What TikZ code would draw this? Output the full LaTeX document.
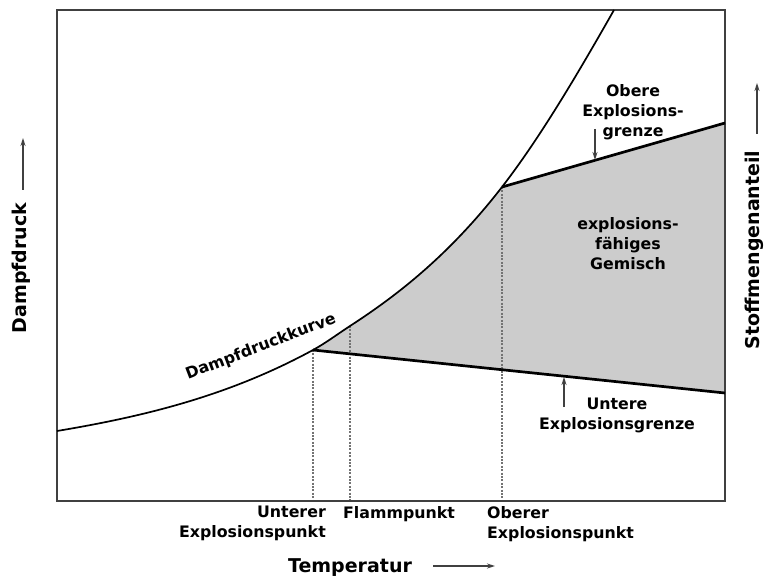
\documentclass[tikz,border=0pt]{standalone}
\usepackage{fontspec}
\setmainfont{DejaVu Sans}
\usetikzlibrary{arrows.meta}

\tikzset{
  txt/.style={font=\fontsize{15.8}{20}\selectfont\bfseries, inner sep=0pt, align=center},
  bigtxt/.style={font=\fontsize{19}{22}\selectfont\bfseries, inner sep=0pt},
  frame/.style={line width=1.5pt, black!75},
  vpcurve/.style={line width=1.7pt},
  limitline/.style={line width=2.7pt},
  dropline/.style={line width=2.6pt, black!55, dash pattern=on 2pt off 1.4pt},
  pointer/.style={-{Stealth[length=8pt, width=5pt]}, line width=1.2pt, black!75},
}

\begin{document}
\begin{tikzpicture}[x=1pt, y=-1pt]
    \useasboundingbox (0, 0) rectangle (766, 577);

    % points on the curve and the limit lines
    \coordinate (start) at (57, 431);
    \coordinate (uep) at (313, 350);
    \coordinate (flp) at (350, 326);
    \coordinate (oep) at (502, 187);
    \coordinate (top) at (614, 10);
    \coordinate (uegEnd) at (725, 393);
    \coordinate (oegEnd) at (725, 123);
    \coordinate (bottom) at (0, 501);

    % explosive region
    \fill[gray!40] (uep) .. controls (325.3, 343.3) and (337.7, 334) .. (flp)
      .. controls (400.7, 293.2) and (451.3, 252.4) .. (oep)
      -- (oegEnd) -- (uegEnd) -- cycle;

    \foreach \p in {uep, flp, oep} {
      \draw[dropline] (\p) -- (\p |- bottom);
    }

    \draw[frame] (57, 10) rectangle (725, 501);

    \draw[vpcurve] (start) .. controls (142.3, 416.7) and (227.7, 396.5) .. (uep)
      .. controls (325.3, 343.3) and (337.7, 334) .. (flp)
      .. controls (400.7, 293.2) and (451.3, 252.4) .. (oep)
      .. controls (539.3, 138.8) and (576.7, 75.7) .. (top);

    \draw[limitline] (uep) -- (uegEnd);
    \draw[limitline] (oep) -- (oegEnd);

    % labels inside the diagram
    \node[txt, rotate=21] (curvelbl) at (261, 347) {Dampfdruckkurve};
    \node[txt, anchor=north] (oeglbl) at (633, 84) {Obere\\Explosions-\\grenze};
    \node[txt, anchor=north] (mixlbl) at (628, 217) {explosions-\\fähiges\\Gemisch};
    \node[txt, anchor=north] (ueglbl) at (617, 398) {Untere\\Explosionsgrenze};

    \coordinate (oegFrom) at (595, 129);
    \coordinate (oegTip) at (595, 160);
    \coordinate (uegFrom) at (564, 407);
    \coordinate (uegTip) at (564, 377);
    \draw[pointer] (oegFrom) -- (oegTip);
    \draw[pointer] (uegFrom) -- (uegTip);

    % labels below the axis
    \node[txt, anchor=north east, align=right] (ueplbl) at (326, 506) {Unterer\\Explosionspunkt};
    \node[txt, anchor=north west] (flplbl) at (343, 506) {Flammpunkt};
    \node[txt, anchor=north west, align=left] (oeplbl) at (487, 506) {Oberer\\Explosionspunkt};

    % axis titles
    \node[bigtxt, anchor=base] (templbl) at (350, 572) {Temperatur};
    \node[bigtxt, rotate=90] (presslbl) at (21, 268) {Dampfdruck};
    \node[bigtxt, rotate=90] (fraclbl) at (754, 250) {Stoffmengenanteil};

    \coordinate (tempFrom) at (433, 566);
    \coordinate (tempTip) at (495, 566);
    \coordinate (pressFrom) at (23, 190);
    \coordinate (pressTip) at (23, 138);
    \coordinate (fracFrom) at (757, 134);
    \coordinate (fracTip) at (757, 83);
    \draw[pointer] (tempFrom) -- (tempTip);
    \draw[pointer] (pressFrom) -- (pressTip);
    \draw[pointer] (fracFrom) -- (fracTip);
\end{tikzpicture}
\end{document}
